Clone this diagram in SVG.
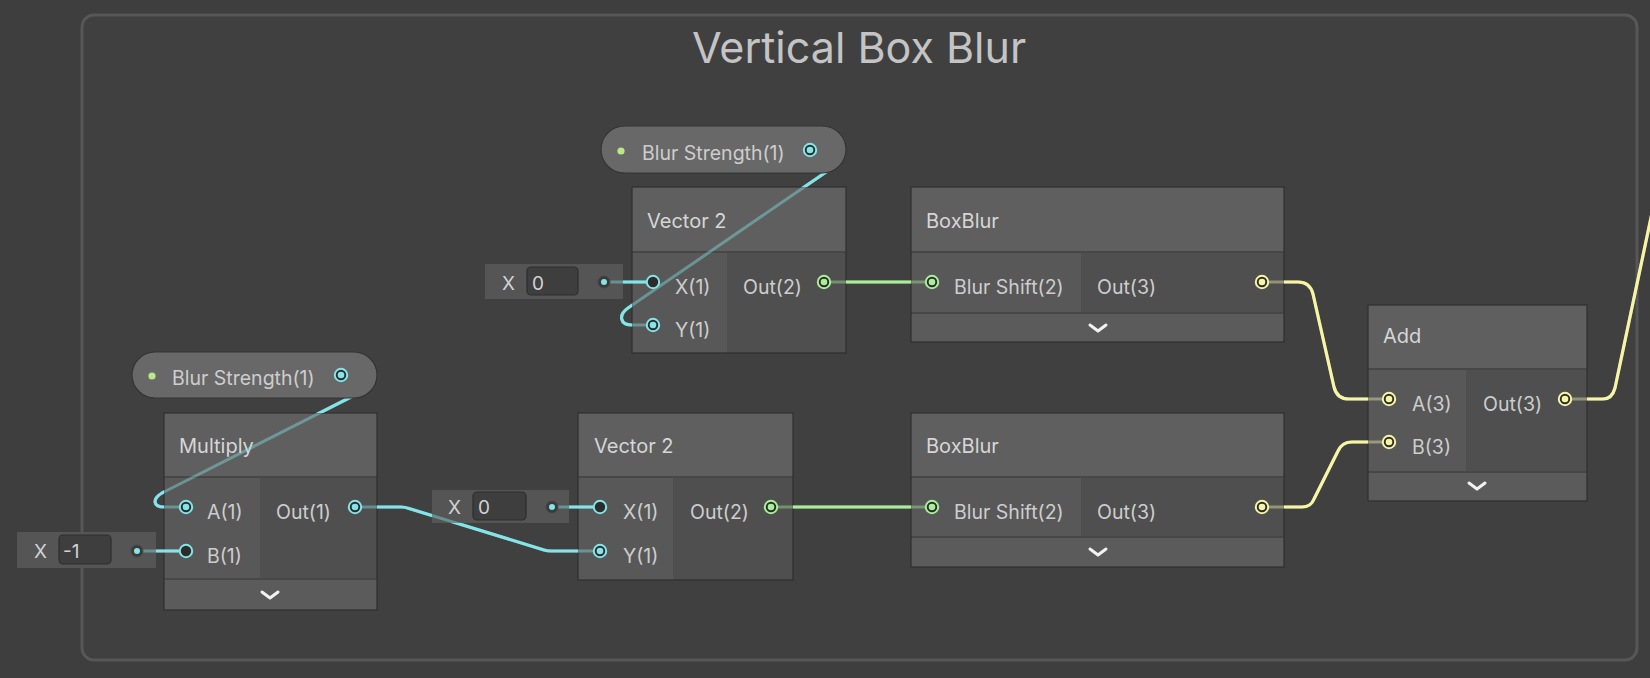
<svg xmlns="http://www.w3.org/2000/svg" width="1650" height="678" viewBox="0 0 1650 678">
<style>
text{font-family:Inter,"Liberation Sans",sans-serif}
.frame-title{font-size:43px;fill:#c4c4c4;text-anchor:middle}
.ttl{font-size:20px;fill:#d6d6d6}
.lbl{font-size:19.5px;fill:#cdcdcd}
.fld{font-size:19px;fill:#d2d2d2}
.tbar{fill:#5f5f5f}
.incol{fill:#585858}
.outcol{fill:#4f4f4f}
.foot{fill:#5b5b5b}
.nbox{fill:none;stroke:#2f2f2f;stroke-width:1.2}
.sep{stroke:#474747;stroke-width:2}
.chev{fill:none;stroke:#f2f2f2;stroke-width:3;stroke-linecap:round;stroke-linejoin:round}
.pill{fill:#686868;stroke:#343434;stroke-width:1.2}
.fbox{fill:#555555}
.finner{fill:#3e3e3e;stroke:#2e2e2e;stroke-width:1.2}
.w{fill:none;stroke-width:3.2;stroke-linejoin:round}
.mut{fill:none;stroke-width:3;stroke-opacity:0.42}
.cy{stroke:#84e4e7}
.gr{stroke:#a9ef9a}
.ye{stroke:#f6f4a6}
.pr{fill:#2c2c2c;stroke-width:2}
.dot-cy{fill:#84e4e7}
.dot-gr{fill:#a9ef9a}
.dot-ye{fill:#f6f4a6}
.dot-prop{fill:#b9e887}
.fdot{fill:#3a3a3a;stroke:#474747;stroke-width:1}
</style>
<defs>
<mask id="outside">
<rect x="0" y="0" width="1650" height="678" fill="#fff"/>
<rect x="632" y="187" width="214" height="166" fill="#000"/>
<rect x="578" y="413" width="215" height="167" fill="#000"/>
<rect x="164" y="413" width="213" height="197" fill="#000"/>
<rect x="911" y="187" width="373" height="155" fill="#000"/>
<rect x="911" y="413" width="373" height="154" fill="#000"/>
<rect x="1368" y="305" width="219" height="196" fill="#000"/>
<rect x="432" y="490" width="137" height="33" fill="#000"/>
<rect x="485" y="264" width="138" height="35" fill="#000"/>
<rect x="17" y="532" width="139" height="36" fill="#000"/>
</mask>
</defs>
<rect x="0" y="0" width="1650" height="678" fill="#3e3e3e"/>
<g id="group-frame">
<rect x="82" y="15" width="1555" height="645" rx="12" fill="#404040" stroke="#575757" stroke-width="3"/>
<text class="frame-title" x="859" y="63">Vertical Box Blur</text>
</g>

<g id="node-multiply">
<rect class="tbar" x="164" y="413" width="213" height="64"/>
<rect class="incol" x="164" y="477" width="96" height="102"/>
<rect class="outcol" x="260" y="477" width="117" height="102"/>
<rect class="foot" x="164" y="579" width="213" height="31"/>
<line class="sep" x1="164" y1="477" x2="377" y2="477"/>
<line class="sep" x1="164" y1="579" x2="377" y2="579"/>
<rect class="nbox" x="164" y="413" width="213" height="197"/>
<text class="ttl" x="179" y="453">Multiply</text>
<text class="lbl" x="207" y="519">A(1)</text>
<text class="lbl" x="207" y="563">B(1)</text>
<text class="lbl" x="276" y="519">Out(1)</text>
<polyline class="chev" points="262,592 270,598 278,592"/>
</g>

<g id="node-vector2-top">
<rect class="tbar" x="632" y="187" width="214" height="65"/>
<rect class="incol" x="632" y="252" width="95" height="101"/>
<rect class="outcol" x="727" y="252" width="119" height="101"/>
<line class="sep" x1="632" y1="252" x2="846" y2="252"/>
<rect class="nbox" x="632" y="187" width="214" height="166"/>
<text class="ttl" x="647" y="228">Vector 2</text>
<text class="lbl" x="675" y="294">X(1)</text>
<text class="lbl" x="675" y="337">Y(1)</text>
<text class="lbl" x="743" y="294">Out(2)</text>
</g>

<g id="node-vector2-bottom">
<rect class="tbar" x="578" y="413" width="215" height="64"/>
<rect class="incol" x="578" y="477" width="95" height="103"/>
<rect class="outcol" x="673" y="477" width="120" height="103"/>
<line class="sep" x1="578" y1="477" x2="793" y2="477"/>
<rect class="nbox" x="578" y="413" width="215" height="167"/>
<text class="ttl" x="594" y="453">Vector 2</text>
<text class="lbl" x="623" y="519">X(1)</text>
<text class="lbl" x="623" y="563">Y(1)</text>
<text class="lbl" x="690" y="519">Out(2)</text>
</g>

<g id="node-boxblur-top">
<rect class="tbar" x="911" y="187" width="373" height="65"/>
<rect class="incol" x="911" y="252" width="170" height="61"/>
<rect class="outcol" x="1081" y="252" width="203" height="61"/>
<rect class="foot" x="911" y="313" width="373" height="29"/>
<line class="sep" x1="911" y1="252" x2="1284" y2="252"/>
<line class="sep" x1="911" y1="313" x2="1284" y2="313"/>
<rect class="nbox" x="911" y="187" width="373" height="155"/>
<text class="ttl" x="926" y="228">BoxBlur</text>
<text class="lbl" x="954" y="294">Blur Shift(2)</text>
<text class="lbl" x="1097" y="294">Out(3)</text>
<polyline class="chev" points="1090,325 1098,331 1106,325"/>
</g>

<g id="node-boxblur-bottom">
<rect class="tbar" x="911" y="413" width="373" height="64"/>
<rect class="incol" x="911" y="477" width="170" height="60"/>
<rect class="outcol" x="1081" y="477" width="203" height="60"/>
<rect class="foot" x="911" y="537" width="373" height="30"/>
<line class="sep" x1="911" y1="477" x2="1284" y2="477"/>
<line class="sep" x1="911" y1="537" x2="1284" y2="537"/>
<rect class="nbox" x="911" y="413" width="373" height="154"/>
<text class="ttl" x="926" y="453">BoxBlur</text>
<text class="lbl" x="954" y="519">Blur Shift(2)</text>
<text class="lbl" x="1097" y="519">Out(3)</text>
<polyline class="chev" points="1090,549 1098,555 1106,549"/>
</g>

<g id="node-add">
<rect class="tbar" x="1368" y="305" width="219" height="64"/>
<rect class="incol" x="1368" y="369" width="98" height="103"/>
<rect class="outcol" x="1466" y="369" width="121" height="103"/>
<rect class="foot" x="1368" y="472" width="219" height="29"/>
<line class="sep" x1="1368" y1="369" x2="1587" y2="369"/>
<line class="sep" x1="1368" y1="472" x2="1587" y2="472"/>
<rect class="nbox" x="1368" y="305" width="219" height="196"/>
<text class="ttl" x="1383" y="343">Add</text>
<text class="lbl" x="1412" y="411">A(3)</text>
<text class="lbl" x="1412" y="454">B(3)</text>
<text class="lbl" x="1483" y="411">Out(3)</text>
<polyline class="chev" points="1469,483 1477,489 1485,483"/>
</g>

<g id="field-x-top">
<rect class="fbox" x="485" y="264" width="138" height="35"/>
<rect class="finner" x="527" y="267" width="51" height="28" rx="4"/>
<text class="fld" x="502" y="290">X</text>
<text class="fld" x="532" y="290">0</text>
</g>
<g id="field-x-bottom">
<rect class="fbox" x="432" y="490" width="137" height="33"/>
<rect class="finner" x="473" y="492" width="53" height="28" rx="4"/>
<text class="fld" x="448" y="514">X</text>
<text class="fld" x="478" y="514">0</text>
</g>
<g id="field-x-minus1">
<rect class="fbox" x="17" y="532" width="139" height="36"/>
<rect class="finner" x="59" y="535" width="52" height="29" rx="4"/>
<text class="fld" x="34" y="558">X</text>
<text class="fld" x="63" y="558">-1</text>
</g>

<g id="connectors">
<g id="muted">
<path class="mut cy" d="M810,150 Q832,152 829,170 L628,308 C618,315 620,325 632,325 L653,325"/>
<path class="mut cy" d="M341,375 Q362,377 357,394 L162,493 C152,499 153,507 164,507 L186,507"/>
<path class="mut cy" d="M355,507 L401,507 Q405,507 409,508.5 L544,550 Q547,551 551,551 L600,551"/>
<path class="mut gr" d="M824,282 L932,282"/>
<path class="mut gr" d="M771,507 L932,507"/>
<path class="mut ye" d="M1262,282 L1298,282 Q1310,282 1313,294 L1334,387 Q1337,399 1349,399 L1389,399"/>
<path class="mut ye" d="M1262,507 L1302,507 Q1311,507 1314,499 L1338,451 Q1342,442 1352,442 L1389,442"/>
<path class="mut ye" d="M1565,399 L1603,399 Q1612,399 1615,388 L1660,175"/>
<path class="mut cy" d="M604,282 L623,282"/>
<path class="mut cy" d="M552,507 L569,507"/>
<path class="mut cy" d="M137,551 L156,551"/>
</g>
<g id="bright" mask="url(#outside)">
<path class="w cy" d="M810,150 Q832,152 829,170 L628,308 C618,315 620,325 632,325 L653,325"/>
<path class="w cy" d="M341,375 Q362,377 357,394 L162,493 C152,499 153,507 164,507 L186,507"/>
<path class="w cy" d="M355,507 L401,507 Q405,507 409,508.5 L544,550 Q547,551 551,551 L600,551"/>
<path class="w gr" d="M824,282 L932,282"/>
<path class="w gr" d="M771,507 L932,507"/>
<path class="w ye" d="M1262,282 L1298,282 Q1310,282 1313,294 L1334,387 Q1337,399 1349,399 L1389,399"/>
<path class="w ye" d="M1262,507 L1302,507 Q1311,507 1314,499 L1338,451 Q1342,442 1352,442 L1389,442"/>
<path class="w ye" d="M1565,399 L1603,399 Q1612,399 1615,388 L1660,175"/>
</g>
<path class="w cy" d="M623,282 L647,282"/>
<path class="w cy" d="M569,507 L594,507"/>
<path class="w cy" d="M156,551 L180,551"/>
</g>

<g id="prop-blur-strength-top">
<rect class="pill" x="601" y="126" width="245" height="47" rx="23.5"/>
<circle class="dot-prop" cx="621" cy="151" r="3.6"/>
<text class="lbl" x="642" y="160">Blur Strength(1)</text>
</g>
<g id="prop-blur-strength-bottom">
<rect class="pill" x="132" y="352" width="245" height="46" rx="23"/>
<circle class="dot-prop" cx="152" cy="376" r="3.6"/>
<text class="lbl" x="172" y="385">Blur Strength(1)</text>
</g>

<g id="ports">
<circle class="pr cy" cx="810" cy="150" r="6.2"/><circle class="dot-cy" cx="810" cy="150" r="3.3"/>
<circle class="pr cy" cx="341" cy="375" r="6.2"/><circle class="dot-cy" cx="341" cy="375" r="3.3"/>
<circle class="pr cy" cx="186" cy="507" r="6.2"/><circle class="dot-cy" cx="186" cy="507" r="3.3"/>
<circle class="pr cy" cx="186" cy="551" r="6.2"/>
<circle class="pr cy" cx="355" cy="507" r="6.2"/><circle class="dot-cy" cx="355" cy="507" r="3.3"/>
<circle class="pr cy" cx="653" cy="282" r="6.2"/>
<circle class="pr cy" cx="653" cy="325" r="6.2"/><circle class="dot-cy" cx="653" cy="325" r="3.3"/>
<circle class="pr gr" cx="824" cy="282" r="6.2"/><circle class="dot-gr" cx="824" cy="282" r="3.3"/>
<circle class="pr cy" cx="600" cy="507" r="6.2"/>
<circle class="pr cy" cx="600" cy="551" r="6.2"/><circle class="dot-cy" cx="600" cy="551" r="3.3"/>
<circle class="pr gr" cx="771" cy="507" r="6.2"/><circle class="dot-gr" cx="771" cy="507" r="3.3"/>
<circle class="pr gr" cx="932" cy="282" r="6.2"/><circle class="dot-gr" cx="932" cy="282" r="3.3"/>
<circle class="pr ye" cx="1262" cy="282" r="6.2"/><circle class="dot-ye" cx="1262" cy="282" r="3.3"/>
<circle class="pr gr" cx="932" cy="507" r="6.2"/><circle class="dot-gr" cx="932" cy="507" r="3.3"/>
<circle class="pr ye" cx="1262" cy="507" r="6.2"/><circle class="dot-ye" cx="1262" cy="507" r="3.3"/>
<circle class="pr ye" cx="1389" cy="399" r="6.2"/><circle class="dot-ye" cx="1389" cy="399" r="3.3"/>
<circle class="pr ye" cx="1389" cy="442" r="6.2"/><circle class="dot-ye" cx="1389" cy="442" r="3.3"/>
<circle class="pr ye" cx="1565" cy="399" r="6.2"/><circle class="dot-ye" cx="1565" cy="399" r="3.3"/>
<circle class="fdot" cx="604" cy="282" r="6"/><circle class="dot-cy" cx="604" cy="282" r="3"/>
<circle class="fdot" cx="552" cy="507" r="6"/><circle class="dot-cy" cx="552" cy="507" r="3"/>
<circle class="fdot" cx="137" cy="551" r="6"/><circle class="dot-cy" cx="137" cy="551" r="3"/>
</g>
</svg>
